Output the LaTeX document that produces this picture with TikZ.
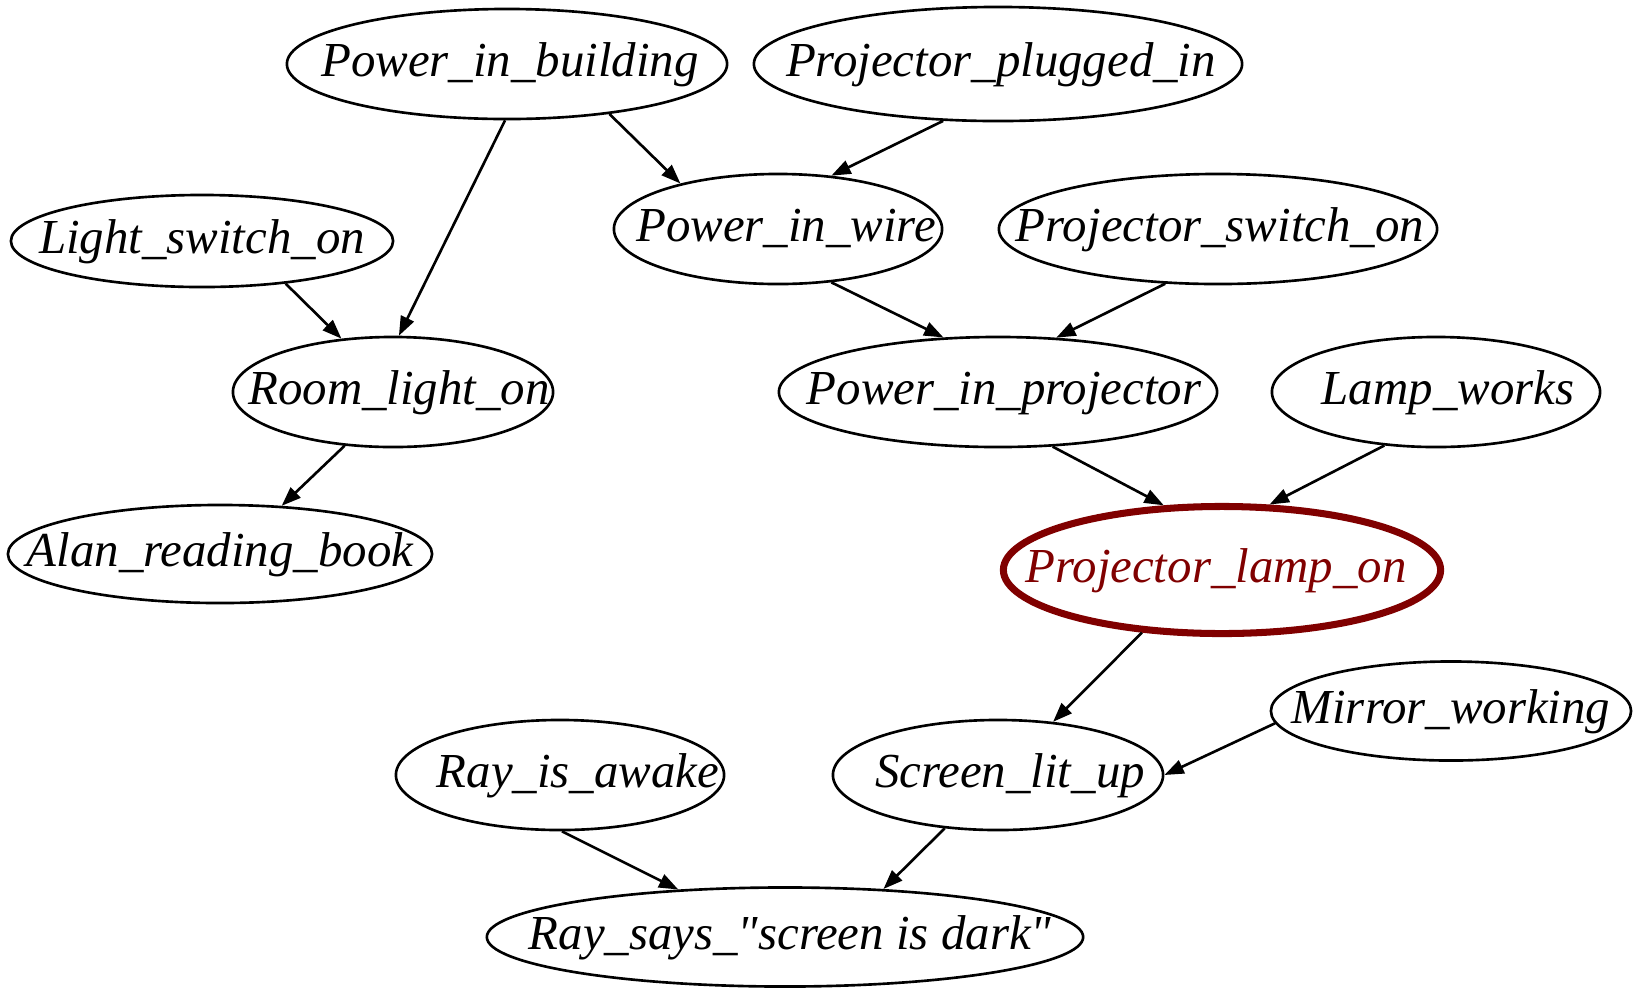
\documentclass[tikz,border=0pt]{standalone}
\usepackage{fontspec}
\setmainfont{Liberation Serif}
\newfontfamily\nodefont{Liberation Serif}[Ligatures=TeXOff]
\usetikzlibrary{arrows.meta,shapes.geometric}
\definecolor{lampred}{RGB}{128,0,0}
% label set as a zero-width box, #1 moves it sideways
\newcommand{\lbl}[2][0pt]{\makebox[0pt]{\kern#1\relax#2\kern-#1\relax}}
\tikzset{
  var/.style={ellipse, draw, line width=0.75pt, inner sep=0pt,
    minimum height=1.1cm, text height=0.33cm, text depth=0.08cm,
    font=\nodefont\fontsize{13.9}{16}\selectfont\itshape},
  evidence/.style={var, draw=lampred, text=lampred, line width=2pt},
  link/.style={-{Triangle[length=5.5pt,width=4pt]}, line width=0.75pt}
}

\begin{document}
\begin{tikzpicture}[x=0.01cm, y=-0.01cm]
	%%%%% START %%%%%
	\useasboundingbox (0,0) rectangle (1633,987);
	
	\node[var, minimum width=4.40cm] (pib) at (507,64) {\lbl[0.03cm]{Power\_in\_building}};
	\node[var, minimum width=4.88cm, minimum height=1.14cm] (ppi) at (998,64) {\lbl[0.03cm]{Projector\_plugged\_in}};
	
	\node[var, minimum width=3.82cm, minimum height=0.92cm] (lso) at (202,241) {\lbl{Light\_switch\_on}};
	\node[var, minimum width=3.28cm] (piw) at (778,229) {\lbl[0.08cm]{Power\_in\_wire}};
	\node[var, minimum width=4.38cm] (pso) at (1218,229) {\lbl[0.02cm]{Projector\_switch\_on}};
	
	\node[var, minimum width=3.20cm] (rlo) at (393,392) {\lbl[0.06cm]{Room\_light\_on}};
	\node[var, minimum width=4.38cm] (pip) at (998,392) {\lbl[0.06cm]{Power\_in\_projector}};
	\node[var, minimum width=3.28cm] (lw) at (1436,392) {\lbl[0.12cm]{Lamp\_works}};
	
	\node[var, minimum width=4.24cm, minimum height=0.98cm] (arb) at (220,554) {\lbl{Alan\_reading\_book}};
	\node[evidence, minimum width=4.37cm, minimum height=1.27cm] (plo) at (1222,570) {\lbl[-0.06cm]{Projector\_lamp\_on}};
	
	\node[var, minimum width=3.60cm, minimum height=0.99cm] (mw) at (1451,711) {\lbl{Mirror\_working}};
	\node[var, minimum width=3.28cm] (ria) at (560,775) {\lbl[0.18cm]{Ray\_is\_awake}};
	\node[var, minimum width=3.30cm] (slu) at (998,775) {\lbl[0.12cm]{Screen\_lit\_up}};
	
	\node[var, minimum width=5.96cm, minimum height=0.99cm] (rs) at (785,937) {\lbl[0.05cm]{Ray\_says\_"screen is dark"}};
	
	% edges
	\draw[link] (pib.-92) -- (rlo.84);
	\draw[link] (pib.-26) -- (piw.155);
	\draw[link] (ppi.-134) -- (piw.45);
	\draw[link] (lso.-27) -- (rlo.134);
	\draw[link] (piw.-45) -- (pip.135);
	\draw[link] (pso.-134) -- (pip.43);
	\draw[link] (rlo.-132) -- (arb.38);
	\draw[link] (pip.-45) -- (plo.132);
	\draw[link] (lw.-134) -- (plo.54);
	\draw[link] (plo.-142) -- (slu.44);
	\draw[link] (mw.-176) -- (slu.0);
	\draw[link] (ria.-88) -- (rs.156);
	\draw[link] (slu.-135) -- (rs.26);
	
	%%%%% END %%%%%
\end{tikzpicture}
\end{document}
